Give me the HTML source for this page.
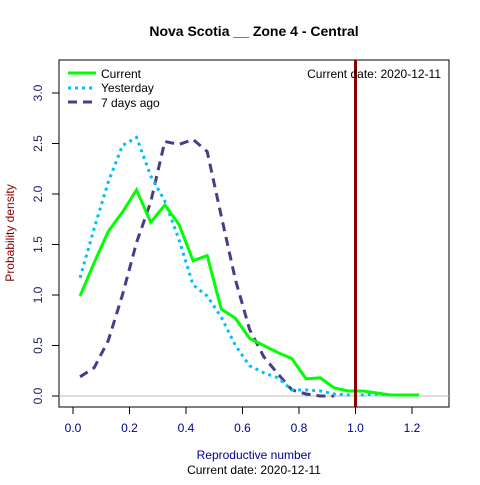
<!DOCTYPE html>
<html><head><meta charset="utf-8"><style>body{margin:0;background:#fff}svg text{font-family:"Liberation Sans",sans-serif}</style></head>
<body>
<svg id="c" width="480" height="480" xmlns="http://www.w3.org/2000/svg">
<rect width="480" height="480" fill="#fff"/>
<text x="254" y="36" text-anchor="middle" font-size="14" font-weight="bold">Nova Scotia __ Zone 4 - Central</text>
<rect x="59" y="60" width="390" height="347" fill="none" stroke="#000"/>
<g id="axes"></g>
<g id="marks"></g>
<text x="254" y="459" text-anchor="middle" font-size="12" fill="#00008B">Reproductive number</text>
<text x="254" y="474" text-anchor="middle" font-size="12">Current date:  2020-12-11</text>
<text transform="translate(14,233) rotate(-90)" text-anchor="middle" font-size="12" fill="#8B0000">Probability density</text>
<text x="441" y="78" text-anchor="end" font-size="12">Current date:  2020-12-11</text>
<g>
<line x1="68" y1="73" x2="96" y2="73" stroke="#00FF00" stroke-width="3"/>
<text x="101" y="78" font-size="12">Current</text>
<line x1="68" y1="88" x2="96" y2="88" stroke="#00BFFF" stroke-width="3" stroke-dasharray="3,4"/>
<text x="101" y="92" font-size="12">Yesterday</text>
<line x1="68" y1="102" x2="96" y2="102" stroke="#483D8B" stroke-width="3" stroke-dasharray="9,6"/>
<text x="101" y="107" font-size="12">7 days ago</text>
</g>
</svg>
<script>
const xs=[0.025,0.075,0.125,0.175,0.225,0.275,0.325,0.375,0.425,0.475,0.525,0.575,0.625,0.675,0.725,0.775,0.825,0.875,0.925,0.975,1.025,1.075,1.125,1.175,1.225];
const current=[0.99,1.32,1.63,1.82,2.04,1.72,1.89,1.70,1.34,1.39,0.86,0.77,0.57,0.50,0.43,0.37,0.17,0.18,0.08,0.05,0.05,0.03,0.01,0.01,0.01];
const yesterday=[1.17,1.66,2.12,2.48,2.56,2.18,1.93,1.55,1.10,0.99,0.78,0.50,0.30,0.23,0.18,0.06,0.06,0.05,0.02,0.01,0.01,0.02,0.01];
const week=[0.19,0.28,0.55,1.0,1.52,1.92,2.52,2.49,2.54,2.42,1.78,1.15,0.66,0.39,0.22,0.06,0.02,0.0,0.0];
const xTicks=[0,0.2,0.4,0.6,0.8,1.0,1.2];
const yTicks=[0,0.5,1.0,1.5,2.0,2.5,3.0];
const currentR=1.0;
const X=v=>73+v*282.5, Y=v=>396-v*101;
const NS="http://www.w3.org/2000/svg";
const ax=document.getElementById('axes'), mk=document.getElementById('marks');
function el(t,a,p){const e=document.createElementNS(NS,t);for(const k in a)e.setAttribute(k,a[k]);p.appendChild(e);return e;}
const h=el('line',{x1:59,x2:449,y1:Y(0),y2:Y(0),stroke:'#bbb'},ax);


xTicks.forEach(v=>{const l=el('line',{x1:X(v),x2:X(v),y1:407,y2:414,stroke:'#000'},ax);


const t=el('text',{x:X(v),y:432,'text-anchor':'middle','font-size':12,fill:'#00008B'},ax);t.textContent=v.toFixed(1);

});
yTicks.forEach(v=>{const l=el('line',{x1:52,x2:59,y1:Y(v),y2:Y(v),stroke:'#000'},ax);


const t=el('text',{transform:`translate(42,${Y(v)}) rotate(-90)`,'text-anchor':'middle','font-size':12,fill:'#1a1a66'},ax);t.textContent=v.toFixed(1);

});
function line(vals,stroke,dash,name){const p=el('polyline',{points:vals.map((v,i)=>X(xs[i])+','+Y(v)).join(' '),fill:'none',stroke:stroke,'stroke-width':3,'stroke-dasharray':dash},mk);

}
line(week,'#483D8B','9,6','series-7-days-ago');
line(yesterday,'#00BFFF','3,4','series-yesterday');
line(current,'#00FF00','none','series-current');
const r=el('line',{x1:X(currentR),x2:X(currentR),y1:60,y2:407,stroke:'#8B0000','stroke-width':3},mk);


</script>
</body></html>
